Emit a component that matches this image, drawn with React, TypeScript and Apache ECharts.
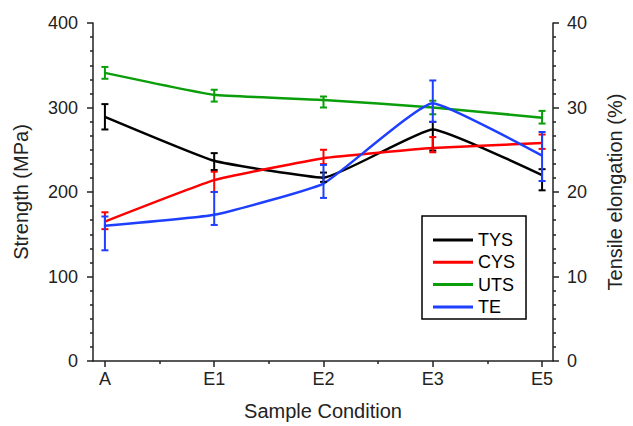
import React, { useEffect, useRef } from "react";
import * as echarts from "echarts";

const categories = ["A", "E1", "E2", "E3", "E5"];

const tysValues = [289, 237, 217, 274, 220];
const tysLow = [274, 226, 212, 249, 202];
const tysHigh = [304, 246, 223, 283, 227];

const cysValues = [165, 214, 240, 252, 258];
const cysLow = [156, 200, 233, 247, 251];
const cysHigh = [176, 224, 250, 265, 268];

const utsValues = [341, 315, 309, 300, 288];
const utsLow = [334, 307, 300, 292, 281];
const utsHigh = [348, 321, 313, 308, 296];

const teValues = [16.0, 17.3, 21.0, 30.5, 24.3];
const teLow = [13.1, 16.1, 19.3, 28.3, 21.3];
const teHigh = [17.1, 20.0, 23.2, 33.2, 27.1];

const leftTicks = [0, 100, 200, 300, 400];
const rightTicks = [0, 10, 20, 30, 40];

const FONT = "'Liberation Sans', Arial, Helvetica, sans-serif";
const AXIS_COLOR = "#222";

function lineSeries(name: string, color: string, values: number[], yAxisIndex: number) {
  return {
    name,
    type: "line",
    xAxisIndex: 0,
    yAxisIndex,
    smooth: 0.12,
    symbol: "none",
    showSymbol: false,
    lineStyle: { color, width: 2.5 },
    itemStyle: { color },
    data: values.map((v, i) => [i, v]),
    z: 3,
  };
}

function errorSeries(color: string, low: number[], high: number[], yAxisIndex: number) {
  return {
    type: "custom",
    xAxisIndex: 0,
    yAxisIndex,
    silent: true,
    data: low.map((l, i) => [i, l, high[i]]),
    renderItem: (params: any, api: any) => {
      const x = api.value(0);
      const p1 = api.coord([x, api.value(1)]);
      const p2 = api.coord([x, api.value(2)]);
      const hw = 3.5;
      const style = { stroke: color, lineWidth: 2 };
      return {
        type: "group",
        children: [
          { type: "line", shape: { x1: p1[0], y1: p1[1], x2: p2[0], y2: p2[1] }, style },
          { type: "line", shape: { x1: p1[0] - hw, y1: p1[1], x2: p1[0] + hw, y2: p1[1] }, style },
          { type: "line", shape: { x1: p2[0] - hw, y1: p2[1], x2: p2[0] + hw, y2: p2[1] }, style },
        ],
      };
    },
    z: 4,
  };
}

export default function App() {
  const ref = useRef<HTMLDivElement>(null);

  useEffect(() => {
    if (!ref.current) return;
    const chart = echarts.init(ref.current, null, { renderer: "svg" });
    const xMin = -0.109;
    const xMax = 4.1;
    const option: any = {
      animation: false,
      backgroundColor: "#fff",
      textStyle: { fontFamily: FONT },
      grid: { left: 93, right: 77, top: 23, bottom: 63, containLabel: false },
      legend: {
        show: true,
        orient: "vertical",
        left: 422,
        top: 216,
        padding: [15, 11, 3, 11],
        borderColor: "#000",
        borderWidth: 1.5,
        borderRadius: 0,
        backgroundColor: "#fff",
        icon: "rect",
        itemWidth: 40,
        itemHeight: 3,
        itemGap: 4.3,
        data: ["TYS", "CYS", "UTS", "TE"],
        textStyle: { fontFamily: FONT, fontSize: 18, color: "#000", lineHeight: 18 },
      },
      xAxis: [
        {
          type: "value",
          min: xMin,
          max: xMax,
          name: "Sample Condition",
          nameLocation: "middle",
          nameGap: 40,
          nameTextStyle: { fontFamily: FONT, fontSize: 20, color: "#222" },
          axisLine: { show: true, onZero: false, lineStyle: { color: AXIS_COLOR, width: 1.5 } },
          axisTick: {
            show: true,
            inside: false,
            length: 6,
            customValues: categories.map((_, i) => i),
            lineStyle: { color: AXIS_COLOR, width: 1.5 },
          },
          axisLabel: {
            show: true,
            customValues: categories.map((_, i) => i),
            formatter: (v: number) => categories[Math.round(v)] ?? "",
            fontFamily: FONT,
            fontSize: 18,
            color: "#222",
            margin: 9,
          },
          splitLine: { show: false },
        },
        {
          type: "value",
          min: xMin,
          max: xMax,
          position: "bottom",
          axisLine: { show: false, onZero: false },
          axisTick: {
            show: true,
            inside: false,
            length: 3,
            customValues: [0.5, 1.5, 2.5, 3.5],
            lineStyle: { color: AXIS_COLOR, width: 1.5 },
          },
          axisLabel: { show: false },
          splitLine: { show: false },
        },
      ],
      yAxis: [
        {
          type: "value",
          position: "left",
          min: leftTicks[0],
          max: leftTicks[leftTicks.length - 1],
          interval: leftTicks[1] - leftTicks[0],
          name: "Strength (MPa)",
          nameLocation: "middle",
          nameGap: 62,
          nameTextStyle: { fontFamily: FONT, fontSize: 20, color: "#222" },
          axisLine: { show: true, onZero: false, lineStyle: { color: AXIS_COLOR, width: 1.5 } },
          axisTick: { show: true, inside: false, length: 6, lineStyle: { color: AXIS_COLOR, width: 1.5 } },
          minorTick: { show: true, splitNumber: 6, length: 3, lineStyle: { color: AXIS_COLOR, width: 1.5 } },
          axisLabel: { fontFamily: FONT, fontSize: 18, color: "#222", margin: 15 },
          splitLine: { show: false },
          minorSplitLine: { show: false },
        },
        {
          type: "value",
          position: "right",
          min: rightTicks[0],
          max: rightTicks[rightTicks.length - 1],
          interval: rightTicks[1] - rightTicks[0],
          name: "Tensile elongation (%)",
          nameLocation: "middle",
          nameGap: 52,
          nameRotate: 90,
          nameTextStyle: { fontFamily: FONT, fontSize: 20, color: "#222" },
          axisLine: { show: true, onZero: false, lineStyle: { color: AXIS_COLOR, width: 1.5 } },
          axisTick: { show: true, inside: false, length: 6, lineStyle: { color: AXIS_COLOR, width: 1.5 } },
          minorTick: { show: true, splitNumber: 6, length: 3, lineStyle: { color: AXIS_COLOR, width: 1.5 } },
          axisLabel: { fontFamily: FONT, fontSize: 18, color: "#222", margin: 14 },
          splitLine: { show: false },
          minorSplitLine: { show: false },
        },
      ],
      series: [
        lineSeries("TYS", "#000000", tysValues, 0),
        lineSeries("CYS", "#ff0000", cysValues, 0),
        lineSeries("UTS", "#0a9e0a", utsValues, 0),
        lineSeries("TE", "#1f3fff", teValues, 1),
        errorSeries("#000000", tysLow, tysHigh, 0),
        errorSeries("#ff0000", cysLow, cysHigh, 0),
        errorSeries("#0a9e0a", utsLow, utsHigh, 0),
        errorSeries("#1f3fff", teLow, teHigh, 1),
      ],
    };
    chart.setOption(option);
    return () => chart.dispose();
  }, []);

  return <div ref={ref} style={{ width: 633, height: 426, position: "fixed", left: 0, top: 0 }} />;
}
